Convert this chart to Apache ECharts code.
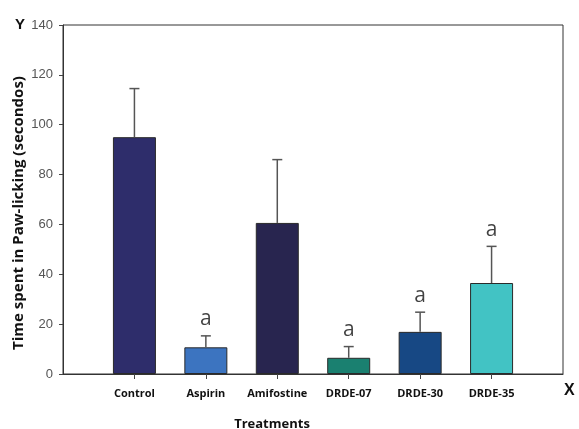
<!DOCTYPE html>
<html>
<head>
<meta charset="utf-8">
<script src="https://cdn.jsdelivr.net/npm/echarts@6/dist/echarts.min.js"></script>
<style>html,body{margin:0;padding:0;background:#fff}#c{width:579px;height:429px}</style>
</head>
<body>
<div id="c"></div>
<script>
const categories = ['Control', 'Aspirin', 'Amifostine', 'DRDE-07', 'DRDE-30', 'DRDE-35'];
const means = [95, 10.7, 60.6, 6.5, 16.9, 36.5];
const errorTops = [114.5, 15.3, 86.0, 11.0, 24.8, 51.2];
const sigLabels = ['', 'a', '', 'a', 'a', 'a'];
const barColors = ['#2E2D6B', '#3C74C0', '#28254F', '#1A8070', '#174884', '#42C3C4'];
const yTicks = [0, 20, 40, 60, 80, 100, 120, 140];

const axisCats = [''].concat(categories, ['']);

const chart = echarts.init(document.getElementById('c'), null, {renderer: 'canvas'});
const option = {
  animation: false,
  backgroundColor: '#fff',
  grid: {left: 63, right: 16, top: 25, bottom: 55, show: true, borderColor: '#333', borderWidth: 1, containLabel: false},
  xAxis: {
    type: 'category',
    data: axisCats,
    boundaryGap: false,
    axisLine: {lineStyle: {color: '#333', width: 1}},
    axisTick: {show: true, inside: false, length: 5, lineStyle: {color: '#444'},
      interval: function (idx, val) { return val !== ''; }},
    axisLabel: {interval: 0, margin: 14, color: '#111', fontFamily: 'Open Sans', fontWeight: 'bold', fontSize: 11},
    splitLine: {show: false}
  },
  yAxis: {
    type: 'value',
    min: 0, max: 140, interval: 20,
    axisLine: {show: true, lineStyle: {color: '#333', width: 1}},
    axisTick: {show: true, length: 4, lineStyle: {color: '#444'}},
    axisLabel: {margin: 10, color: '#555', fontFamily: 'Liberation Sans', fontSize: 13,
      formatter: function (v) { return yTicks.indexOf(v) >= 0 ? String(v) : ''; }},
    splitLine: {show: false}
  },
  graphic: [
    {type: 'text', left: 15, top: 17, style: {text: 'Y', font: 'bold 15px "Liberation Sans"', fill: '#111'}},
    {type: 'text', left: 564, top: 383, style: {text: 'X', font: 'bold 16px "Liberation Sans"', fill: '#111'}},
    {type: 'text', x: 272, y: 418, style: {text: 'Treatments', font: 'bold 13px "Open Sans"', fill: '#111', align: 'center', verticalAlign: 'top'}},
    {type: 'text', x: 19, y: 213, rotation: Math.PI / 2, style: {text: 'Time spent in Paw-licking (secondos)', font: 'bold 15px "Open Sans"', fill: '#111', align: 'center', verticalAlign: 'middle'}}
  ],
  series: [
    {
      type: 'bar',
      barWidth: 43,
      data: categories.map(function (c, i) {
        return {value: [c, means[i]], itemStyle: {color: barColors[i], borderColor: '#2a2a2a', borderWidth: 1}};
      }),
      z: 2
    },
    {
      type: 'custom',
      z: 3,
      data: categories.map(function (c, i) { return [c, means[i], errorTops[i]]; }),
      encode: {x: 0, y: [1, 2]},
      renderItem: function (params, api) {
        const x = api.value(0);
        const p0 = api.coord([x, api.value(1)]);
        const p1 = api.coord([x, api.value(2)]);
        const cap = 5;
        const st = {stroke: '#555', lineWidth: 1.5};
        return {type: 'group', children: [
          {type: 'line', shape: {x1: p0[0], y1: p0[1], x2: p1[0], y2: p1[1]}, style: st},
          {type: 'line', shape: {x1: p1[0] - cap, y1: p1[1], x2: p1[0] + cap, y2: p1[1]}, style: st}
        ]};
      }
    },
    {
      type: 'scatter',
      symbolSize: 0,
      z: 4,
      data: categories.map(function (c, i) { return {value: [c, errorTops[i]], lbl: sigLabels[i]}; }).filter(function (d) { return d.lbl; }),
      label: {show: true, position: 'top', distance: 6, formatter: 'a', fontFamily: 'Open Sans', fontSize: 21, color: '#111'}
    }
  ]
};
chart.setOption(option);
</script>
</body>
</html>
